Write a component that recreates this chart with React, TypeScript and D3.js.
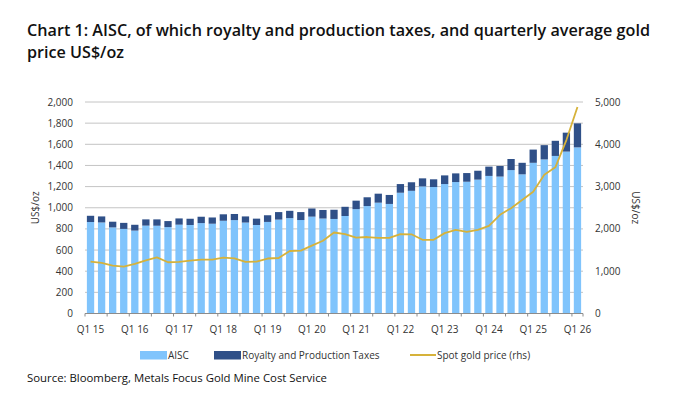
import { useRef, useEffect } from 'react';
import * as d3 from 'd3';

const years = ['15', '16', '17', '18', '19', '20', '21', '22', '23', '24', '25', '26'];
const quarters: string[] = [];
years.forEach((y) => ['Q1', 'Q2', 'Q3', 'Q4'].forEach((q) => quarters.push(`${q} ${y}`)));
quarters.splice(45); // Q1 15 .. Q1 26

// light part of the bar (AISC excluding royalties)
const aisc = [
    865, 861, 814, 800, 784, 831, 830, 817, 840, 837, 855, 849, 877, 883, 860, 837,
    866, 888, 902, 884, 916, 898, 894, 922, 987, 1016, 1048, 1036, 1142, 1160, 1202, 1196,
    1224, 1243, 1246, 1266, 1301, 1295, 1356, 1316, 1425, 1457, 1490, 1531, 1571,
];

const royalty = [
    59, 57, 54, 57, 55, 59, 60, 57, 59, 59, 60, 59, 61, 58, 58, 60,
    63, 71, 69, 75, 77, 81, 87, 87, 80, 83, 85, 85, 82, 81, 76, 73,
    82, 82, 82, 84, 88, 100, 105, 109, 125, 135, 143, 179, 227,
];

const gold = [
    1226, 1195, 1130, 1108, 1172, 1258, 1328, 1212, 1219, 1252, 1275, 1275, 1320, 1305, 1219, 1226,
    1300, 1312, 1478, 1485, 1603, 1721, 1915, 1877, 1792, 1808, 1786, 1786, 1877, 1872, 1742, 1742,
    1900, 1978, 1932, 1978, 2073, 2334, 2490, 2685, 2880, 3278, 3455, 4100, 4880,
];

const leftTicks = [0, 200, 400, 600, 800, 1000, 1200, 1400, 1600, 1800, 2000];
const rightTicks = [0, 1000, 2000, 3000, 4000, 5000];

const legendItems = ['AISC', 'Royalty and Production Taxes', 'Spot gold price (rhs)'];

const LIGHT = '#80c4fc';
const DARK = '#2f5088';
const GOLD = '#d6b23a';
const FONT = "'Open Sans', 'Noto Sans', sans-serif";

export default function App() {
    const ref = useRef<SVGSVGElement>(null);

    useEffect(() => {
        if (!ref.current) return;
        const svg = d3.select(ref.current);
        svg.selectAll('*').remove();

        const left = 85, right = 583, top = 102, bottom = 313.5;

        const x = d3.scaleBand<string>()
            .domain(quarters)
            .range([left, right])
            .paddingInner(0.34)
            .paddingOuter(0.17);
        const yL = d3.scaleLinear().domain([0, 2000]).range([bottom, top]);
        const yR = d3.scaleLinear().domain([0, 5000]).range([bottom, top]);
        const step = x.step();

        svg.append('rect').attr('width', 684).attr('height', 411).attr('fill', '#fff');

        // title
        const title = svg.append('text')
            .attr('font-family', FONT)
            .attr('font-weight', 600)
            .attr('font-size', 15.5)
            .attr('fill', '#111');
        title.append('tspan').attr('x', 27).attr('y', 36)
            .attr('textLength', 623).attr('lengthAdjust', 'spacingAndGlyphs')
            .text('Chart 1: AISC, of which royalty and production taxes, and quarterly average gold');
        title.append('tspan').attr('x', 27).attr('y', 57.5)
            .attr('textLength', 97).attr('lengthAdjust', 'spacingAndGlyphs')
            .text('price US$/oz');

        // gridlines
        svg.append('g').selectAll('line')
            .data(leftTicks.filter((d) => d > 0))
            .join('line')
            .attr('x1', left).attr('x2', right)
            .attr('y1', (d) => yL(d)).attr('y2', (d) => yL(d))
            .attr('stroke', '#c4c4c4').attr('stroke-width', 1);

        // left tick labels
        svg.append('g').selectAll('text')
            .data(leftTicks)
            .join('text')
            .attr('x', 73).attr('y', (d) => yL(d)).attr('dy', '0.35em')
            .attr('text-anchor', 'end')
            .attr('font-family', FONT).attr('font-size', 10).attr('fill', '#333')
            .text((d) => d3.format(',')(d));

        // right tick labels
        svg.append('g').selectAll('text')
            .data(rightTicks)
            .join('text')
            .attr('x', 595).attr('y', (d) => yR(d)).attr('dy', '0.35em')
            .attr('text-anchor', 'start')
            .attr('font-family', FONT).attr('font-size', 10).attr('fill', '#333')
            .text((d) => d3.format(',')(d));

        // axis titles
        svg.append('text')
            .attr('transform', `translate(39, ${(top + bottom) / 2}) rotate(-90)`)
            .attr('text-anchor', 'middle')
            .attr('font-family', FONT).attr('font-size', 10).attr('fill', '#333')
            .text('US$/oz');
        svg.append('text')
            .attr('transform', `translate(632, ${(top + bottom) / 2}) rotate(90)`)
            .attr('text-anchor', 'middle')
            .attr('font-family', FONT).attr('font-size', 10).attr('fill', '#333')
            .text('US$/oz');

        // stacked bars
        const bars = svg.append('g');
        quarters.forEach((q, i) => {
            bars.append('rect')
                .attr('x', x(q)!)
                .attr('width', x.bandwidth())
                .attr('y', yL(aisc[i]))
                .attr('height', yL(0) - yL(aisc[i]))
                .attr('fill', LIGHT);
            bars.append('rect')
                .attr('x', x(q)!)
                .attr('width', x.bandwidth())
                .attr('y', yL(aisc[i] + royalty[i]))
                .attr('height', yL(aisc[i]) - yL(aisc[i] + royalty[i]))
                .attr('fill', DARK);
        });

        // x axis
        svg.append('line')
            .attr('x1', left).attr('x2', right)
            .attr('y1', bottom).attr('y2', bottom)
            .attr('stroke', '#8c8c8c');
        const tickPos = d3.range(0, quarters.length + 1)
            .filter((k) => k % 2 === 0 || k === quarters.length)
            .map((k) => left + k * step);
        svg.append('g').selectAll('line')
            .data(tickPos)
            .join('line')
            .attr('x1', (d) => d).attr('x2', (d) => d)
            .attr('y1', bottom).attr('y2', bottom + 3)
            .attr('stroke', '#8c8c8c');
        svg.append('g').selectAll('text')
            .data(quarters.filter((_, i) => i % 4 === 0))
            .join('text')
            .attr('x', (d) => x(d)! + x.bandwidth() / 2)
            .attr('y', 333)
            .attr('text-anchor', 'middle')
            .attr('font-family', FONT).attr('font-size', 10).attr('fill', '#333')
            .text((d) => d);

        // gold line
        const line = d3.line<number>()
            .x((_, i) => x(quarters[i])! + x.bandwidth() / 2)
            .y((d) => yR(d));
        svg.append('path')
            .datum(gold)
            .attr('d', line)
            .attr('fill', 'none')
            .attr('stroke', GOLD)
            .attr('stroke-width', 1.8)
            .attr('stroke-linejoin', 'round');

        // legend
        const lg = svg.append('g').attr('font-family', FONT).attr('font-size', 10).attr('fill', '#333');
        lg.append('rect').attr('x', 140).attr('y', 351).attr('width', 27).attr('height', 8.5).attr('fill', LIGHT);
        lg.append('text').attr('x', 168).attr('y', 358.5).text(legendItems[0]);
        lg.append('rect').attr('x', 214).attr('y', 351).attr('width', 27).attr('height', 8.5).attr('fill', DARK);
        lg.append('text').attr('x', 242).attr('y', 358.5).text(legendItems[1]);
        lg.append('line').attr('x1', 410).attr('x2', 436).attr('y1', 355).attr('y2', 355)
            .attr('stroke', GOLD).attr('stroke-width', 2);
        lg.append('text').attr('x', 437).attr('y', 358.5).text(legendItems[2]);

        // source
        svg.append('text')
            .attr('x', 27).attr('y', 382)
            .attr('font-family', FONT).attr('font-size', 10.5).attr('fill', '#111')
            .attr('textLength', 300).attr('lengthAdjust', 'spacingAndGlyphs')
            .text('Source: Bloomberg, Metals Focus Gold Mine Cost Service');
    }, []);

    return (
        <svg ref={ref} width={684} height={411}
            style={{ position: 'absolute', left: 0, top: 0, display: 'block' }} />
    );
}
